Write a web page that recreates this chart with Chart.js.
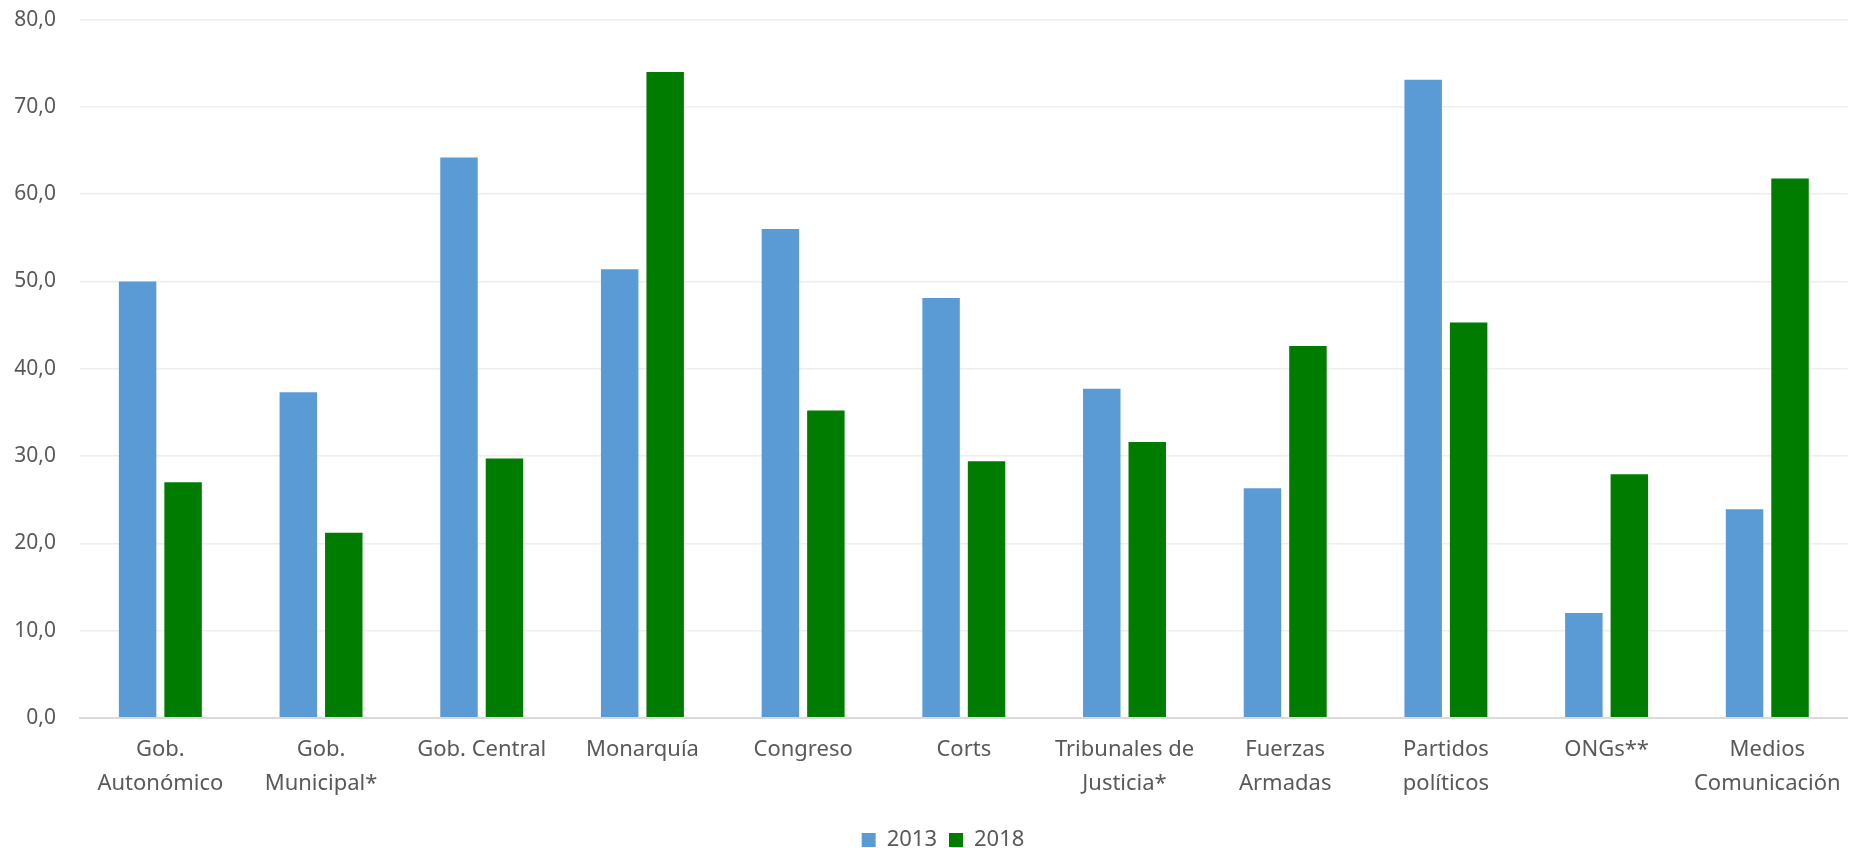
<!DOCTYPE html>
<html>
<head>
<meta charset="utf-8">
<title>Confianza en instituciones 2013 / 2018</title>
<script src="https://cdn.jsdelivr.net/npm/chart.js@4/dist/chart.umd.min.js"></script>
<style>
  html, body { margin: 0; padding: 0; background: #fff; }
  #wrap { width: 1856px; height: 848px; position: relative; }
</style>
</head>
<body>
<div id="wrap"><canvas id="myChart"></canvas></div>
<script>
// datos
var categorias = [
    ['Gob.', 'Autonómico'],
    ['Gob.', 'Municipal*'],
    'Gob. Central',
    'Monarquía',
    'Congreso',
    'Corts',
    ['Tribunales de', 'Justicia*'],
    ['Fuerzas', 'Armadas'],
    ['Partidos', 'políticos'],
    'ONGs**',
    ['Medios', 'Comunicación']
];
var valores2013 = [50.0, 37.3, 64.2, 51.4, 56.0, 48.1, 37.7, 26.3, 73.1, 12.0, 23.9];
var valores2018 = [27.0, 21.2, 29.7, 74.0, 35.2, 29.4, 31.6, 42.6, 45.3, 27.9, 61.8];
var series = ['2013', '2018'];

var gris = '#595959';
var fuente = '"Noto Sans", "DejaVu Sans", sans-serif';

// la leyenda del original esta un poco desplazada a la derecha
var moverLeyenda = {
    id: 'moverLeyenda',
    afterLayout: function (c) {
        var l = c.legend;
        if (!l) return;
        l.left += 15; l.right += 15;
        l.top += 1; l.bottom += 1;
    }
};

var ctx = document.getElementById('myChart').getContext('2d');
var chart = new Chart(ctx, {
    type: 'bar',
    data: {
        labels: categorias,
        datasets: [
            {
                label: series[0],
                backgroundColor: '#5B9BD5',
                data: valores2013,
                categoryPercentage: 0.566,
                barPercentage: 0.824
            },
            {
                label: series[1],
                backgroundColor: '#007D00',
                data: valores2018,
                categoryPercentage: 0.566,
                barPercentage: 0.824
            }
        ]
    },
    plugins: [moverLeyenda],
    options: {
        responsive: true,
        maintainAspectRatio: false,
        animation: false,
        layout: {
            padding: { left: 8, right: 8, top: 0, bottom: -12 }
        },
        plugins: {
            tooltip: { enabled: false },
            legend: {
                position: 'bottom',
                labels: {
                    boxWidth: 14,
                    boxHeight: 14,
                    padding: 12,
                    color: gris,
                    font: { family: fuente, size: 22 }
                }
            }
        },
        scales: {
            x: {
                grid: { display: false, drawTicks: false },
                border: { display: true, color: '#D9D9D9', width: 2 },
                ticks: {
                    color: gris,
                    font: { family: fuente, size: 22, lineHeight: 1.55 },
                    padding: 15,
                    maxRotation: 0,
                    minRotation: 0,
                    autoSkip: false
                }
            },
            y: {
                min: 0,
                max: 80,
                afterFit: function (scale) { scale.width = 72; },
                grid: {
                    color: '#EEEEEE',
                    lineWidth: 1.5,
                    drawTicks: true,
                    tickLength: 17,
                    tickColor: 'rgba(0,0,0,0)'
                },
                border: { display: false },
                ticks: {
                    stepSize: 10,
                    color: gris,
                    padding: 7,
                    font: { family: fuente, size: 21 },
                    callback: function (v) { return v.toFixed(1).replace('.', ','); }
                }
            }
        }
    }
});
</script>
</body>
</html>
